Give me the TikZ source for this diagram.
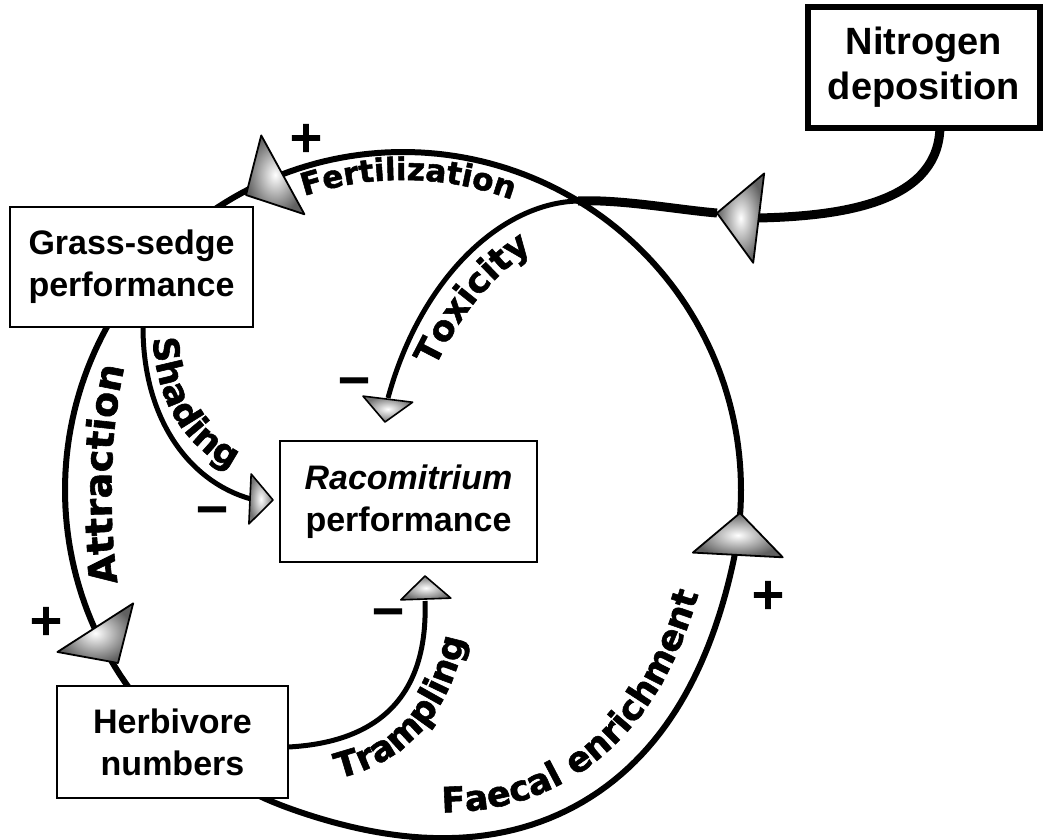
\documentclass[tikz,border=0pt]{standalone}
\usepackage{fontspec}
\setmainfont{Liberation Sans}
\newfontfamily\lblfam{DejaVu Sans Bold}[FakeBold=1.6]
\usetikzlibrary{decorations.text}
\newcommand\boxfont{\fontsize{34}{42}\selectfont\bfseries}
\newcommand\signfont{\lblfam\fontsize{44}{44}\selectfont}
\newcommand\lblA{\lblfam\fontsize{31}{31}\selectfont}
\newcommand\lblB{\lblfam\fontsize{35}{35}\selectfont}
\newcommand\lblC{\lblfam\fontsize{38}{38}\selectfont}
\pgfmathdeclarefunction{loopR}{1}{\pgfmathparse{338+22*(#1>12)*(#1<110)*sin((#1-12)*1.83673)*sin((#1-12)*1.83673)}}
\tikzset{
  loopline/.style={line width=6pt, line join=round},
  nline/.style={line width=9pt, line cap=butt},
  thinline/.style={line width=5pt},
  box/.style={draw, line width=2pt, fill=white, align=center, font=\boxfont, inner sep=0pt},
  sign/.style={font=\signfont, inner sep=0pt},
  bigtri/.pic={\shade[inner color=white, outer color=black!62, draw=black, line width=1.8pt, line join=round] (0,0) -- (-42,45) -- (-42,-45) -- cycle;},
  smalltri/.pic={\shade[inner color=white, outer color=black!55, draw=black, line width=1.6pt, line join=round] (0,0) -- (-23,25) -- (-23,-25) -- cycle;},
}
\begin{document}
\begin{tikzpicture}[x=1pt,y=-1pt]
\useasboundingbox (0,0) rectangle (1049,839);

% main loop (Grass-sedge -> Herbivore -> ... -> Grass-sedge)
\coordinate (C) at (403,490);
\draw[loopline] plot[domain=0:360, samples=241] ({403+loopR(\x)*cos(\x)},{490+loopR(\x)*sin(\x)}) -- cycle;

% nitrogen line
\coordinate (nIn) at (758,218);
\coordinate (nTip) at (717,213);
\coordinate (cross) at (578,201);
\draw[nline] (940,125) .. controls (940,200) and (850,216) .. (nIn);
\draw[nline] (nTip) .. controls (680,210) and (620,199) .. (cross);

% toxicity
\coordinate (toxEnd) at (388,398);
\draw[thinline] (cross) .. controls (500,203) and (420,280) .. (toxEnd);
\path[decorate, decoration={text along path, text align=center,
  text={|\lblB|Toxicity}}] (430,378) .. controls (452,330) and (482,280) .. (542,243);

% shading
\coordinate (shStart) at (143,327);
\coordinate (shEnd) at (251,499);
\draw[thinline] (shStart) .. controls (143,420) and (190,482) .. (shEnd);
\path[decorate, decoration={text along path, text align={left, left indent=6pt},
  text={|\lblB|Shading}}] (153,332) .. controls (154,412) and (196,464) .. (262,480);

% trampling
\coordinate (trStart) at (288,747);
\coordinate (trEnd) at (425,601);
\draw[thinline] (trStart) .. controls (385,742) and (428,690) .. (trEnd);
\path[decorate, decoration={text along path, text align=center,
  text={|\lblB|Trampling}}] (318,782) .. controls (398,772) and (455,720) .. (468,618);

% curved labels on the loop
\path[decorate, decoration={text along path, text align=center,
  text={|\lblA|Fertilization}}] plot[domain=245:297, samples=40] ({403+310*cos(\x)},{490+310*sin(\x)});
\path[decorate, decoration={text along path, text align=center,
  text={|\lblC|Attraction}}] (121,605) .. controls (108,530) and (106,430) .. (130,345);
\path[decorate, decoration={text along path, text align=center,
  text={|\lblB|Faecal enrichment}}] plot[domain=97:5, samples=60] ({403+(loopR(\x)-26)*cos(\x)},{490+(loopR(\x)-26)*sin(\x)});

% boxes
\node[box, minimum width=243pt, minimum height=120pt] (grass) at (131.5,267) {Grass-sedge\\performance};
\node[box, minimum width=231pt, minimum height=112pt] (herb) at (172.5,742) {Herbivore\\numbers};
\node[box, minimum width=257pt, minimum height=121pt] (raco) at (408.5,501.5) {\itshape Racomitrium\\performance};
\node[box, line width=6pt, minimum width=232pt, minimum height=121pt, font=\fontsize{38}{45}\selectfont\bfseries] (nitro) at (924,67.5) {Nitrogen\\deposition};

% arrowheads
\pic[rotate=208.7] at (246,195) {bigtri};
\pic[rotate=173] at (nTip) {bigtri};
\pic[rotate=87] at (740,513) {bigtri};
\pic[rotate=-57.3] at (118,663) {bigtri};
\pic[rotate=-97] at (385,422) {smalltri};
\pic[rotate=-2.6] at (273,500) {smalltri};
\pic[rotate=92] at (425,576) {smalltri};

% signs
\node[sign] (s1) at (306,138) {+};
\node[sign] (s2) at (46,621) {+};
\node[sign] (s3) at (768,595) {+};
\node[sign] (m1) at (354,386) {−};
\node[sign] (m2) at (212,515) {−};
\node[sign] (m3) at (388,617) {−};
\end{tikzpicture}
\end{document}
